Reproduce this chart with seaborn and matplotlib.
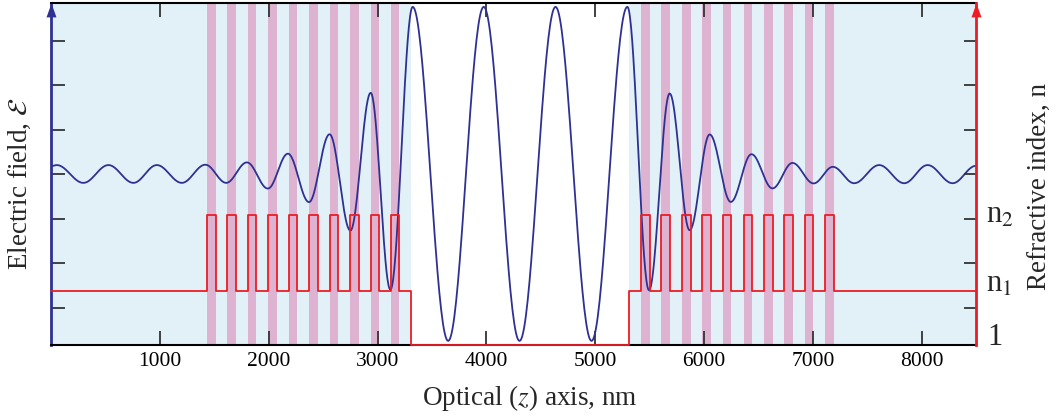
import numpy as np
import pandas as pd
import matplotlib
matplotlib.use("Agg")
import matplotlib.pyplot as plt
import seaborn as sns
from matplotlib.path import Path

# ---------------- data ----------------
# electric-field extrema along the optical axis (nm) and their values
field_z = [0, 50, 295, 525, 755, 970, 1200, 1416,
           1608, 1798, 1991, 2175, 2369, 2558, 2749, 2936, 3117,
           3322, 3648, 3975, 4304, 4635, 4966, 5295,
           5494, 5684, 5868, 6052, 6246, 6436, 6629, 6813, 7007, 7184,
           7380, 7610, 7840, 8055, 8285, 8500]
field_E = [0.045, 0.051, -0.049, 0.051, -0.049, 0.051, -0.049, 0.053,
           -0.049, 0.066, -0.081, 0.115, -0.157, 0.224, -0.317, 0.457, -0.649,
           0.940, -0.937, 0.940, -0.937, 0.940, -0.937, 0.940,
           -0.652, 0.453, -0.315, 0.223, -0.156, 0.112, -0.080, 0.063, -0.052, 0.041,
           -0.051, 0.051, -0.051, 0.051, -0.051, 0.047]

# refractive index structure
n_low = 1.5      # n1
n_high = 2.2     # n2
n_cav = 1.0      # cavity
left_high_starts = [1430, 1614, 1804, 1991, 2181, 2371, 2558, 2749, 2936, 3120]
right_high_starts = [5424, 5608, 5797, 5985, 6172, 6363, 6550, 6736, 6924, 7111]
high_width = 80
cavity = [3307, 5310]
z_range = [0, 8500]

x_ticks = [1000, 2000, 3000, 4000, 5000, 6000, 7000, 8000]
e_ticks = [-0.75, -0.5, -0.25, 0, 0.25, 0.5, 0.75]
e_lim = [-0.96, 0.96]
n_lim = [1.0, 4.146]

# ---------------- styling ----------------
navy = "#2E3192"
red = "#ED1C24"
pink = "#DDB3D1"
light_blue = "#E2F1F7"
tick_col = "#333333"

sns.set_theme(style="white")
plt.rcParams["font.family"] = ["Liberation Serif", "DejaVu Serif"]
plt.rcParams["mathtext.fontset"] = "stix"

fig = plt.figure(figsize=(10.58, 4.19), dpi=100)
fig.subplots_adjust(left=51.3 / 1058, right=976 / 1058,
                    bottom=(419 - 345) / 419, top=(419 - 3.3) / 419)
ax = fig.add_subplot(111)
ax2 = ax.twinx()

# background regions
ax.axvspan(z_range[0], cavity[0], color=light_blue, lw=0, zorder=0)
ax.axvspan(cavity[1], z_range[1], color=light_blue, lw=0, zorder=0)
for s in left_high_starts + right_high_starts:
    ax.axvspan(s, s + high_width, color=pink, lw=0, zorder=0.5)

# smooth field curve through extrema (half-cosine segments)
xs, ys = [], []
for i in range(len(field_z) - 1):
    t = np.linspace(0, 1, 40, endpoint=False)
    xs.append(field_z[i] + (field_z[i + 1] - field_z[i]) * t)
    ys.append(field_E[i] + (field_E[i + 1] - field_E[i]) * (1 - np.cos(np.pi * t)) / 2)
xs.append([field_z[-1]])
ys.append([field_E[-1]])
df_field = pd.DataFrame({"z": np.concatenate(xs), "E": np.concatenate(ys)})
sns.lineplot(data=df_field, x="z", y="E", ax=ax, color=navy, lw=1.3,
             sort=False, estimator=None, zorder=3)

# refractive index profile
seg_z = [z_range[0]]
seg_n = [n_low]
for s in left_high_starts:
    seg_z += [s, s + high_width]
    seg_n += [n_high, n_low]
seg_z += [cavity[0], cavity[1]]
seg_n += [n_cav, n_low]
for s in right_high_starts:
    seg_z += [s, s + high_width]
    seg_n += [n_high, n_low]
seg_z.append(z_range[1])
seg_n.append(n_low)
df_n = pd.DataFrame({"z": seg_z, "n": seg_n})
sns.lineplot(data=df_n, x="z", y="n", ax=ax2, color=red, lw=1.3,
             drawstyle="steps-post", sort=False, estimator=None, clip_on=False)

# axes limits / ticks
ax.set_xlim(*z_range)
ax.set_ylim(*e_lim)
ax2.set_ylim(*n_lim)
ax.set_xticks(x_ticks)
ax.set_xticklabels([str(v) for v in x_ticks], fontsize=15.5)
ax.set_yticks(e_ticks)
ax.set_yticklabels([])
# right ticks at the same heights as the left ones
frac = [(e - e_lim[0]) / (e_lim[1] - e_lim[0]) for e in e_ticks]
ax2.set_yticks([n_lim[0] + f * (n_lim[1] - n_lim[0]) for f in frac])
ax2.set_yticklabels([])

ax.tick_params(axis="x", which="both", direction="in", length=10, width=1.3,
               color=tick_col, top=True, bottom=True, pad=5, labelcolor="black")
ax.tick_params(axis="y", direction="in", length=10, width=1.3, color=tick_col,
               left=True, right=False)
ax2.tick_params(axis="y", direction="in", length=9, width=1.3, color=tick_col,
                right=True, left=False)
ax.set_xlabel("")
ax.set_ylabel("")
ax2.set_ylabel("")

# spines
for a in (ax, ax2):
    for sp in a.spines.values():
        sp.set_visible(False)
ax.spines["top"].set_visible(True)
ax.spines["bottom"].set_visible(True)
ax.spines["top"].set_color("black")
ax.spines["bottom"].set_color("black")
ax.spines["top"].set_linewidth(1.5)
ax.spines["bottom"].set_linewidth(1.5)
ax.spines["left"].set_visible(True)
ax.spines["left"].set_color(navy)
ax.spines["left"].set_linewidth(2)
ax2.spines["right"].set_visible(True)
ax2.spines["right"].set_color(red)
ax2.spines["right"].set_linewidth(2)

# arrow heads on the vertical axes
arrow = Path([(0, 0), (-0.36, -1), (0.36, -1), (0, 0)],
             [Path.MOVETO, Path.LINETO, Path.LINETO, Path.CLOSEPOLY])
ax.plot([0], [1], marker=arrow, ms=20, color=navy, mew=0,
        transform=ax.transAxes, clip_on=False, zorder=10)
ax2.plot([1], [1], marker=arrow, ms=20, color=red, mew=0,
         transform=ax2.transAxes, clip_on=False, zorder=10)

# right-hand index labels
ytr = ax2.get_yaxis_transform()
ax2.annotate("n$_2$", xy=(1, n_high), xycoords=ytr, xytext=(7, -5.5),
             textcoords="offset points", fontsize=22, va="baseline", ha="left",
             annotation_clip=False)
ax2.annotate("n$_1$", xy=(1, n_low), xycoords=ytr, xytext=(7, -0.8),
             textcoords="offset points", fontsize=22, va="baseline", ha="left",
             annotation_clip=False)
ax2.annotate("1", xy=(1, n_cav), xycoords=ytr, xytext=(8, 0),
             textcoords="offset points", fontsize=22, va="baseline", ha="left",
             annotation_clip=False)

# axis titles
fig.text(20 / 1058, 1 - 184 / 419, r"Electric field, $\boldsymbol{\mathcal{E}}$",
         rotation=90, ha="center", va="center", fontsize=19.5)
fig.text(1039 / 1058, 1 - 186 / 419, "Refractive index, n",
         rotation=90, ha="center", va="center", fontsize=19.5)
fig.text(530 / 1058, 1 - 398 / 419, r"Optical ($z$) axis, nm",
         ha="center", va="center", fontsize=19.5)

fig.savefig("out.png", dpi=100)
